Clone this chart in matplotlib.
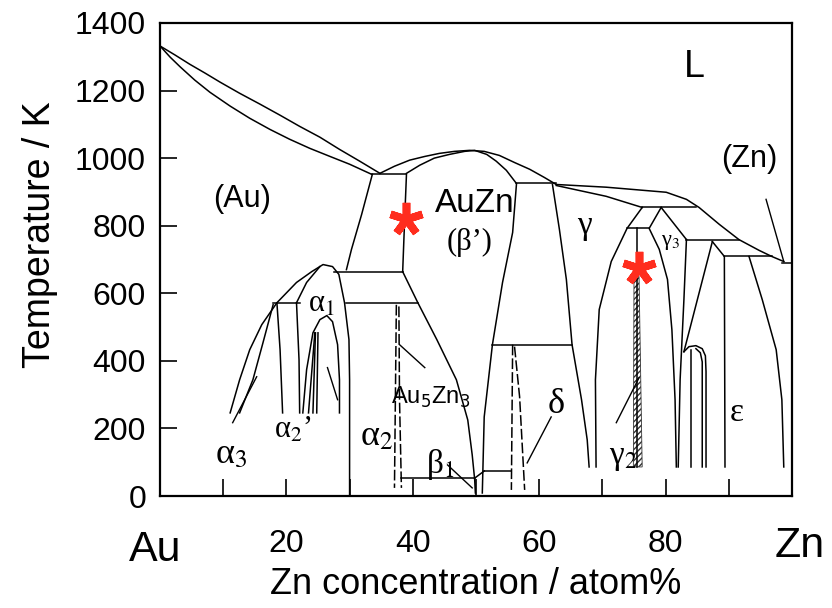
import matplotlib
matplotlib.use('Agg')
import matplotlib.pyplot as plt

plt.rcParams['font.family'] = ['Liberation Sans', 'DejaVu Sans']

# Au-Zn binary phase diagram: composition in at.% Zn, temperature in K
au_liquidus_x = [0, 2.4, 4.7, 7.1, 9.5, 12.6, 15.8, 19.0, 22.1, 25.3, 28.4, 31.6, 34.8]
au_liquidus_t = [1332, 1305, 1278, 1252, 1225, 1192, 1160, 1127, 1094, 1062, 1026, 991, 955]
au_solidus_x = [0, 1.6, 3.2, 5.5, 7.9, 11.1, 14.2, 17.4, 20.5, 23.7, 26.9, 30.0, 33.5]
au_solidus_t = [1332, 1299, 1270, 1231, 1195, 1154, 1118, 1085, 1056, 1029, 1005, 982, 952]

beta_liquidus_x = [34.8, 37.1, 39.5, 41.9, 44.2, 46.6, 49.0, 51.3, 53.7, 56.1, 58.5, 60.8, 62.7]
beta_liquidus_t = [955, 976, 994, 1005, 1014, 1020, 1023, 1020, 1008, 987, 967, 943, 922]
beta_solidus_x = [39.0, 41.1, 43.4, 45.8, 48.2, 49.8, 51.7, 53.2, 54.8, 56.4]
beta_solidus_t = [955, 979, 1000, 1011, 1020, 1023, 1011, 991, 964, 925]

zn_liquidus_x = [62.7, 70.6, 80.1, 83.3, 85.3, 88.5, 91.6, 94.8, 96.8, 98.7]
zn_liquidus_t = [922, 914, 899, 878, 854, 804, 759, 727, 709, 694]
gamma_solidus_x = [62.7, 70.6, 76.3]
gamma_solidus_t = [919, 887, 854]

# invariant reactions: (T, x_from, x_to)
isotherms = [
    (952, 33.5, 39.0),
    (925, 56.4, 62.7),
    (664, 27.6, 38.4),
    (572, 29.5, 40.8),
    (572, 17.9, 22.1),
    (448, 52.6, 65.2),
    (53, 38.2, 49.8),
    (74, 51.3, 55.6),
    (854, 76.3, 84.8),
    (792, 73.9, 77.4),
    (759, 83.3, 91.6),
    (709, 89.3, 96.8),
    (691, 98.4, 100.0),
]

# solid-state phase boundaries: (x list, T list)
solid_boundaries = [
    ([33.6, 31.9, 30.3, 29.5], [952, 833, 730, 670]),
    ([39.0, 38.7, 38.4], [952, 813, 664]),
    ([38.4, 40.8, 43.8, 46.9, 48.7, 49.4, 49.8, 49.9], [664, 572, 463, 344, 225, 122, 47, 9]),
    ([56.4, 55.8, 54.2, 52.6, 51.3, 51.0], [922, 780, 632, 448, 234, 9]),
    ([62.1, 63.2, 64.3, 65.2, 66.7, 67.6, 67.9], [922, 789, 641, 448, 285, 166, 86]),
    ([49.8, 51.3], [53, 74]),
    # gamma2 dome
    ([76.3, 73.9, 71.4, 69.5, 68.9, 69.0], [854, 792, 694, 552, 344, 86]),
    ([79.3, 77.4, 79.0, 80.3, 81.0, 81.5, 81.7], [854, 792, 730, 641, 492, 285, 86]),
    ([75.4, 75.4], [792, 86]),
    # gamma3 / epsilon side
    ([79.3, 83.3], [854, 759]),
    ([83.3, 82.9, 82.3, 82.0], [759, 581, 344, 86]),
    ([87.4, 82.9], [753, 427]),
    ([82.9, 83.7, 84.8, 85.8, 86.3, 86.4, 86.4], [427, 442, 445, 436, 415, 368, 86]),
    ([84.0, 84.0], [433, 86]),
    ([84.8, 85.5, 85.8, 85.8], [436, 424, 397, 86]),
    ([87.4, 89.3, 89.4], [753, 709, 86]),
    ([93.2, 95.3, 97.5, 98.4, 98.7], [709, 581, 433, 285, 86]),
    # alpha domes on the Au side
    ([11.1, 12.6, 14.2, 16.1, 18.5, 21.6, 24.0, 25.8, 27.3, 28.3, 29.2, 29.9, 30.0, 30.0],
     [246, 344, 433, 507, 572, 632, 664, 685, 679, 656, 572, 463, 344, 0]),
    ([12.6, 14.7, 16.3, 17.9], [246, 344, 454, 566]),
    ([21.6, 23.2, 25.3], [572, 632, 679]),
    ([18.5, 19.0, 19.4], [572, 433, 246]),
    ([21.6, 22.0, 22.1], [572, 403, 246]),
    ([22.6, 23.2, 24.2, 25.3, 26.4, 27.3, 28.1, 28.4, 28.4], [246, 374, 483, 522, 534, 516, 448, 344, 246]),
    ([24.5, 23.5], [483, 246]),
    ([24.6, 24.2], [483, 246]),
    ([25.0, 24.8], [483, 246]),
]

dashed_boundaries = [
    ([37.4, 37.1], [566, 24]),
    ([37.8, 37.9, 38.2], [561, 285, 24]),
    ([55.8, 55.6], [448, 18]),
    ([56.1, 56.9, 57.7], [442, 294, 18]),
]

pointer_lines = [
    ([11.5, 15.3], [217, 353]),
    ([26.5, 28.1], [380, 285]),
    ([37.9, 41.9], [448, 380]),
    ([45.5, 49.4], [92, 24]),
    ([61.9, 58.1], [234, 98]),
    ([72.2, 75.8], [217, 350]),
    ([95.9, 98.7], [878, 694]),
]

gamma2_band_x = [75.0, 75.8, 76.3, 74.9]
gamma2_band_t = [650, 650, 86, 86]

marked_x = [39.0, 75.8]
marked_t = [819, 676]

sans_labels = [
    ('L', 84.5, 1269, 27),
    ('(Au)', 13.0, 878, 22),
    ('AuZn', 49.8, 866, 24),
    ('(Zn)', 93.3, 997, 22),
    ('Au$_5$Zn$_3$', 42.8, 291, 17),
]
serif_labels = [
    ('(β’)', 49.0, 750, 22),
    ('γ', 67.1, 800, 24),
    ('γ$_3$', 80.8, 750, 16),
    ('α$_1$', 25.6, 566, 22),
    ('α$_3$', 11.3, 122, 26),
    ('α$_2$’', 21.0, 196, 22),
    ('α$_2$', 34.3, 175, 26),
    ('β$_1$', 44.4, 92, 24),
    ('δ', 62.7, 270, 26),
    ('γ$_2$', 73.3, 113, 24),
    ('ε', 91.2, 246, 24),
]

fig = plt.figure(figsize=(8.32, 6.08), dpi=100)
ax = fig.add_axes([0.1923, 0.1842, 0.7596, 0.778])

lw = 1.1
ax.plot(au_liquidus_x, au_liquidus_t, color='black', lw=lw)
ax.plot(au_solidus_x, au_solidus_t, color='black', lw=lw)
ax.plot(beta_liquidus_x, beta_liquidus_t, color='black', lw=lw)
ax.plot(beta_solidus_x, beta_solidus_t, color='black', lw=lw)
ax.plot(zn_liquidus_x, zn_liquidus_t, color='black', lw=lw)
ax.plot(gamma_solidus_x, gamma_solidus_t, color='black', lw=lw)

for t, x0, x1 in isotherms:
    ax.plot([x0, x1], [t, t], color='black', lw=lw)
for xs, ts in solid_boundaries:
    ax.plot(xs, ts, color='black', lw=lw)
for xs, ts in dashed_boundaries:
    ax.plot(xs, ts, color='black', lw=lw, linestyle=(0, (7, 2)))
for xs, ts in pointer_lines:
    ax.plot(xs, ts, color='black', lw=1.0)

ax.fill(gamma2_band_x, gamma2_band_t, facecolor='white', edgecolor='#333333',
        hatch='//////', lw=0.6)

ax.plot(marked_x, marked_t, linestyle='none', marker=(5, 2, 0), markersize=24,
        markeredgewidth=5.5, color='#ff2d1e')

for txt, x, t, size in sans_labels:
    ax.text(x, t, txt, fontsize=size, ha='center', va='center',
            family='Liberation Sans', math_fontfamily='dejavusans')
for txt, x, t, size in serif_labels:
    ax.text(x, t, txt, fontsize=size, ha='center', va='center',
            family='Liberation Serif', math_fontfamily='stix')

ax.set_xlim(0, 100)
ax.set_ylim(0, 1400)
ax.set_xticks(range(10, 100, 10))
ax.set_xticklabels(['', '20', '', '40', '', '60', '', '80', ''])
ax.set_yticks(range(0, 1401, 200))
ax.tick_params(direction='in', length=12, width=1.2, labelsize=23)
ax.tick_params(axis='x', pad=24)
ax.tick_params(axis='y', pad=10)
for spine in ax.spines.values():
    spine.set_linewidth(1.6)

fig.text(155 / 832, 1 - 550 / 608, 'Au', fontsize=31, ha='center', va='center')
fig.text(800 / 832, 1 - 546 / 608, 'Zn', fontsize=31, ha='center', va='center')
fig.text(476 / 832, 1 - 585 / 608, 'Zn concentration / atom%', fontsize=26,
         ha='center', va='center')
fig.text(40 / 832, 1 - 235 / 608, 'Temperature / K', fontsize=27, rotation=90,
         ha='center', va='center')

fig.savefig('out.png', dpi=100)
